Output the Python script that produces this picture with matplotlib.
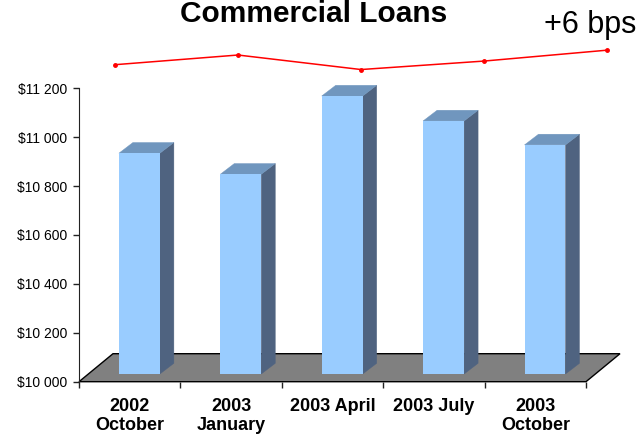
import matplotlib
matplotlib.use("Agg")
import matplotlib.pyplot as plt
from matplotlib.patches import Polygon
from matplotlib.ticker import FuncFormatter, FixedLocator
import numpy as np

# ---- data ----
quarters = ["2002\nOctober", "2003\nJanuary", "2003 April", "2003 July", "2003\nOctober"]
loans = [10903, 10817, 11137, 11035, 10937]          # commercial loans, $ millions
spread_change_bps = [0, 4, -2, 1.5, 6]                # margin change vs. first quarter
y_ticks = [10000, 10200, 10400, 10600, 10800, 11000, 11200]
title = "Commercial Loans"
note = "+6 bps"

# ---- styling ----
FRONT = "#99CCFF"
TOP = "#7096BE"
SIDE = "#4F6380"
FLOOR = "#808080"
plt.rcParams["font.family"] = ["Liberation Sans", "DejaVu Sans"]

W, H = 638, 440
fig = plt.figure(figsize=(W / 100, H / 100), dpi=100)

# main value axes (front plane of the 3-D floor)
ax = fig.add_axes([79 / W, 1 - 381.7 / H, 507 / W, 293.4 / H])
n = len(quarters)
base = y_ticks[0]
ax.set_xlim(-0.5, n - 0.5)
ax.set_ylim(y_ticks[0], y_ticks[-1])


def px_to_data(dx_px, dy_px):
    """Convert a screen offset in pixels into data-unit offsets."""
    p0 = ax.transData.transform((0, base))
    p1 = ax.transData.inverted().transform(p0 + np.array([dx_px, dy_px]))
    return p1[0], p1[1] - base


floor_dx, floor_dy = px_to_data(34, 28)      # depth of the floor
front_dx, front_dy = px_to_data(9.7, 7.7)    # bars sit a little behind the front edge
bar_dx, bar_dy = px_to_data(14, 10.7)        # depth of each bar
bar_w = 0.404

# floor
floor = Polygon([(-0.5, base), (n - 0.5, base),
                 (n - 0.5 + floor_dx, base + floor_dy),
                 (-0.5 + floor_dx, base + floor_dy)],
                closed=True, facecolor=FLOOR, edgecolor="black",
                linewidth=1.0, clip_on=False, zorder=1)
ax.add_patch(floor)

# bars: front face plus top and side faces
xs = np.arange(n)
heights = np.array(loans) - base
ax.bar(xs + front_dx, heights, bottom=base + front_dy, width=bar_w,
       color=FRONT, linewidth=0, clip_on=False, zorder=3)
for x, v in zip(xs, loans):
    x0 = x + front_dx - bar_w / 2
    x1 = x + front_dx + bar_w / 2
    b = base + front_dy
    t = v + front_dy
    side = Polygon([(x1, b), (x1, t), (x1 + bar_dx, t + bar_dy), (x1 + bar_dx, b + bar_dy)],
                   closed=True, facecolor=SIDE, edgecolor=SIDE, linewidth=0.3,
                   clip_on=False, zorder=2.5)
    top = Polygon([(x0, t), (x1, t), (x1 + bar_dx, t + bar_dy), (x0 + bar_dx, t + bar_dy)],
                  closed=True, facecolor=TOP, edgecolor=TOP, linewidth=0.3,
                  clip_on=False, zorder=2.6)
    ax.add_patch(side)
    ax.add_patch(top)

# axes styling
for s in ["top", "right"]:
    ax.spines[s].set_visible(False)
ax.spines["left"].set_color("#222222")
ax.spines["bottom"].set_visible(False)
ax.set_yticks(y_ticks)
ax.yaxis.set_major_formatter(FuncFormatter(lambda v, _: "$" + f"{int(v):,}".replace(",", " ")))
ax.tick_params(axis="y", direction="out", length=4, width=1, color="#222222",
               labelsize=10, pad=4.5)
ax.set_xticks(xs)
ax.set_xticklabels(quarters, fontweight="bold", fontsize=13, linespacing=1.15)
ax.xaxis.set_minor_locator(FixedLocator(np.arange(n + 1) - 0.5))
ax.tick_params(axis="x", which="major", length=0, pad=12)
ax.tick_params(axis="x", which="minor", direction="out", length=4, width=1, color="#222222")
ax.patch.set_visible(False)

# margin trend line above the bars
y0_px, px_per_bp = 64.7, 2.42
lax = fig.add_axes([115 / W, 1 - 90 / H, 492 / W, 60 / H])
lax.set_xlim(0, n - 1)
lax.set_ylim(-(90 - y0_px) / px_per_bp, (y0_px - 30) / px_per_bp)
lax.plot(range(n), spread_change_bps, color="red", linewidth=1.1,
         marker="o", markersize=2.5, clip_on=False)
lax.axis("off")

fig.text(314 / W, 1 - 22.5 / H, title, ha="center", va="baseline",
         fontsize=21.5, fontweight="bold")
fig.text(636 / W, 1 - 33.3 / H, note, ha="right", va="baseline", fontsize=22)

fig.savefig("out.png", dpi=100)
